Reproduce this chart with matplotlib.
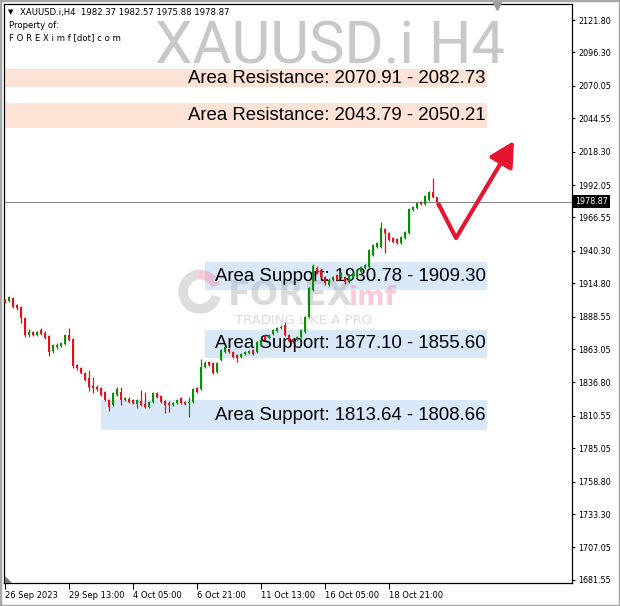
import numpy as np
import matplotlib
matplotlib.use('Agg')
import matplotlib.pyplot as plt
from matplotlib.patches import Rectangle, Polygon, Wedge
from matplotlib import transforms

# XAUUSD.i H4 candles
opens = [1901.7, 1900.9, 1903.2, 1897.7, 1896.1, 1887.5, 1874.1, 1876.5, 1874.1, 1878.1,
         1875.7, 1873.3, 1861.6, 1864.7, 1865.5, 1867.1, 1874.1, 1871.0, 1850.6, 1848.2,
         1844.3, 1840.3, 1834.0, 1833.3, 1832.5, 1829.3, 1823.0, 1819.1, 1827.0, 1829.3,
         1823.0, 1823.8, 1823.0, 1819.9, 1822.2, 1819.9, 1817.5, 1821.5, 1828.5, 1826.2,
         1822.2, 1820.7, 1819.1, 1820.7, 1824.6, 1821.5, 1820.7, 1821.5, 1832.5, 1831.7,
         1849.0, 1852.9, 1852.1, 1845.1, 1854.5, 1860.8, 1863.1, 1860.8, 1858.4, 1856.8,
         1859.2, 1860.0, 1862.4, 1860.8, 1866.3, 1874.1, 1871.8, 1875.0, 1877.3, 1879.6,
         1882.0, 1874.1, 1871.0, 1870.2, 1872.6, 1876.5, 1888.3, 1909.5, 1926.8, 1925.2,
         1919.7, 1913.4, 1917.4, 1921.3, 1919.7, 1919.7, 1915.8, 1919.7, 1919.7, 1923.6,
         1926.8, 1927.6, 1937.0, 1943.3, 1943.3, 1957.5, 1954.3, 1950.4, 1949.6, 1946.4,
         1950.4, 1954.3, 1972.4, 1974.0, 1978.7, 1977.1, 1980.3, 1986.5, 1982.37]
highs = [1902.5, 1904.8, 1904.0, 1898.5, 1896.9, 1888.3, 1878.9, 1877.3, 1877.3, 1879.6,
         1877.3, 1874.1, 1867.1, 1867.9, 1868.6, 1874.9, 1879.6, 1871.8, 1851.4, 1849.0,
         1845.1, 1846.6, 1841.1, 1834.8, 1833.3, 1830.1, 1823.8, 1829.3, 1833.3, 1833.3,
         1825.4, 1825.4, 1823.8, 1823.8, 1830.9, 1829.3, 1822.2, 1829.3, 1829.3, 1827.0,
         1823.0, 1822.2, 1821.5, 1823.8, 1825.4, 1822.2, 1825.4, 1832.5, 1833.3, 1855.3,
         1853.7, 1853.7, 1852.9, 1852.9, 1863.1, 1865.5, 1863.9, 1861.6, 1859.2, 1860.0,
         1861.6, 1862.4, 1863.1, 1869.4, 1871.0, 1874.9, 1874.9, 1878.9, 1880.4, 1882.0,
         1884.4, 1874.9, 1871.8, 1873.3, 1878.9, 1889.1, 1911.9, 1930.0, 1928.4, 1926.0,
         1920.5, 1918.9, 1920.5, 1922.1, 1923.6, 1920.5, 1922.1, 1923.6, 1926.0, 1928.4,
         1930.0, 1941.8, 1945.7, 1947.2, 1963.0, 1958.3, 1955.1, 1951.2, 1950.4, 1952.0,
         1955.9, 1974.0, 1975.5, 1978.7, 1979.5, 1984.2, 1987.3, 1997.6, 1982.57]
lows = [1899.3, 1900.1, 1895.4, 1893.8, 1883.6, 1872.6, 1872.6, 1873.3, 1873.3, 1874.1,
        1871.0, 1857.7, 1860.0, 1863.1, 1864.7, 1866.3, 1869.4, 1848.2, 1846.6, 1843.5,
        1838.0, 1830.1, 1828.5, 1830.1, 1826.2, 1822.2, 1814.4, 1818.3, 1826.2, 1819.1,
        1822.2, 1820.7, 1819.9, 1816.8, 1818.3, 1816.8, 1816.8, 1820.7, 1824.6, 1820.7,
        1812.8, 1813.6, 1818.3, 1819.9, 1819.9, 1819.1, 1809.7, 1820.7, 1828.5, 1830.9,
        1848.2, 1849.8, 1843.5, 1844.3, 1853.7, 1860.0, 1860.0, 1856.1, 1852.9, 1856.1,
        1858.4, 1859.2, 1858.4, 1860.0, 1865.5, 1869.4, 1871.0, 1874.1, 1876.5, 1878.9,
        1873.3, 1868.6, 1867.9, 1869.4, 1871.8, 1875.7, 1887.5, 1908.7, 1922.1, 1918.9,
        1913.4, 1912.7, 1916.6, 1916.6, 1918.9, 1914.2, 1915.0, 1918.9, 1918.9, 1922.9,
        1926.0, 1926.8, 1936.2, 1942.5, 1942.5, 1938.6, 1948.0, 1946.4, 1945.7, 1945.7,
        1949.6, 1953.5, 1971.6, 1973.2, 1976.4, 1976.4, 1979.5, 1981.8, 1975.88]
closes = [1900.1, 1904.0, 1896.1, 1895.4, 1887.5, 1874.1, 1876.5, 1874.1, 1876.5, 1875.0,
          1871.8, 1860.8, 1866.3, 1866.3, 1867.9, 1874.1, 1870.2, 1849.8, 1848.2, 1844.3,
          1838.8, 1833.3, 1832.5, 1831.7, 1827.0, 1823.0, 1817.5, 1828.5, 1831.7, 1823.0,
          1824.6, 1821.5, 1820.7, 1823.0, 1819.1, 1817.5, 1821.5, 1828.5, 1825.4, 1821.5,
          1819.1, 1819.1, 1820.7, 1823.0, 1820.7, 1819.9, 1821.5, 1831.7, 1829.3, 1849.0,
          1852.1, 1850.6, 1844.3, 1852.1, 1862.4, 1864.7, 1860.8, 1856.8, 1856.1, 1859.2,
          1860.8, 1861.6, 1859.2, 1868.6, 1870.2, 1870.2, 1874.1, 1878.1, 1879.6, 1880.4,
          1874.1, 1869.4, 1868.6, 1872.6, 1878.1, 1888.3, 1911.1, 1928.4, 1922.9, 1919.7,
          1915.0, 1917.4, 1919.7, 1917.4, 1922.9, 1915.8, 1921.3, 1922.9, 1925.2, 1927.6,
          1929.2, 1941.0, 1944.9, 1946.4, 1958.3, 1954.3, 1948.8, 1947.2, 1946.4, 1951.2,
          1955.1, 1973.2, 1974.8, 1977.9, 1977.1, 1983.4, 1986.5, 1982.6, 1978.87]

date_bars = [0, 16, 32, 48, 64, 80, 96]
date_labels = ['26 Sep 2023', '29 Sep 13:00', '4 Oct 05:00', '6 Oct 21:00',
               '11 Oct 13:00', '16 Oct 05:00', '18 Oct 21:00']
price_ticks = [2121.80, 2096.30, 2070.05, 2044.55, 2018.30, 1992.05, 1966.55, 1940.30,
               1914.80, 1888.55, 1863.05, 1836.80, 1810.55, 1785.05, 1758.80, 1733.30,
               1707.05, 1681.55]
last_price = 1978.87

# zones: (low, high), first bar, label
res_zones = [(2069.1, 2083.3), (2036.9, 2056.5)]
res_start = [-2, -2]
res_labels = ['Area Resistance: 2070.91 - 2082.73', 'Area Resistance: 2043.79 - 2050.21']
sup_zones = [(1909.5, 1931.5), (1856.1, 1878.1), (1799.4, 1823.0)]
sup_start = [50, 50, 24]
sup_labels = ['Area Support: 1930.78 - 1909.30', 'Area Support: 1877.10 - 1855.60',
              'Area Support: 1813.64 - 1808.66']
zone_end = 120.6

# projected move drawn on chart
arrow_bars = [108.25, 112.75, 127.25]
arrow_prices = [1977.9, 1950.4, 2026.7]

GREEN = '#0b8a0b'
RED = '#e3101c'
ARROW = '#e8142f'

fig = plt.figure(figsize=(6.2, 6.06), dpi=100)
ax = fig.add_axes([4/620, 1-583/606, 568/620, 579/606])
ax.set_xlim(-0.25, 141.75)
ax.set_ylim(1679.1, 2134.4)

# watermark
ax.text(0.882, 0.898, 'XAUUSD.i H4', transform=ax.transAxes, ha='right', va='baseline',
        fontsize=43, family='Roboto', color='#c8c8c8', zorder=0)

# zones
for (lo, hi), x0 in zip(res_zones, res_start):
    ax.add_patch(Rectangle((x0, lo), zone_end - x0, hi - lo, facecolor='#fde3d5',
                           edgecolor='none', zorder=1))
for (lo, hi), x0 in zip(sup_zones, sup_start):
    ax.add_patch(Rectangle((x0, lo), zone_end - x0, hi - lo, facecolor='#d8e8f8',
                           edgecolor='none', zorder=1))

# logo watermark
ax.add_patch(Wedge((0.345, 0.503), 0.038, 95, 345, width=0.017, transform=ax.transAxes,
                   facecolor='#b4b4bc', alpha=0.45, edgecolor='none', zorder=2))
ax.add_patch(Wedge((0.345, 0.503), 0.038, 20, 95, width=0.017, transform=ax.transAxes,
                   facecolor='#f08cb0', alpha=0.45, edgecolor='none', zorder=2))
ax.text(0.394, 0.480, 'FOREX', transform=ax.transAxes, fontsize=24, fontweight='bold',
        color='#b0b0b8', alpha=0.45, va='baseline', zorder=2)
ax.text(0.607, 0.480, 'imf', transform=ax.transAxes, fontsize=19, fontweight='bold',
        color='#f08cb0', alpha=0.45, va='baseline', zorder=2)
ax.text(0.407, 0.447, 'TRADING LIKE A PRO', transform=ax.transAxes, fontsize=9.5,
        color='#b8b8c0', alpha=0.5, va='baseline', zorder=2)

# current price line
ax.axhline(last_price, color='#8c8c8c', lw=0.8, zorder=2)

# zone labels (candles are drawn over them)
for (lo, hi), txt in zip(res_zones + sup_zones, res_labels + sup_labels):
    ax.text(zone_end - 0.4, (lo + hi) / 2, txt, ha='right', va='center', fontsize=13.4,
            family='Liberation Sans', color='black', zorder=2.5)

# candles
o = np.array(opens)
h = np.array(highs)
l = np.array(lows)
c = np.array(closes)
idx = np.arange(len(o))
cols = np.where(c >= o, GREEN, RED)
ax.vlines(idx, l, h, colors=cols, lw=0.9, zorder=3)
ax.bar(idx, np.maximum(np.abs(c - o), 0.9), bottom=np.minimum(o, c), width=0.72,
       color=cols, linewidth=0, zorder=4)

# arrow
ax.plot(arrow_bars[:2], arrow_prices[:2], color=ARROW, lw=3.0, solid_capstyle='butt', zorder=7)
ax.annotate('', xy=(arrow_bars[2], arrow_prices[2]), xytext=(arrow_bars[1], arrow_prices[1]),
            arrowprops=dict(arrowstyle='-|>,head_length=0.75,head_width=0.4', lw=3.0,
                            color=ARROW, shrinkA=0, shrinkB=0, mutation_scale=20), zorder=7)

# axes styling
for sp in ax.spines.values():
    sp.set_color('black')
    sp.set_linewidth(0.9)
ax.yaxis.tick_right()
ax.set_yticks(price_ticks)
ax.set_yticklabels(['%.2f' % v for v in price_ticks])
ax.tick_params(axis='y', length=2, width=0.8, pad=2.5, labelsize=5.8, colors='black')
ax.set_xticks(date_bars)
ax.set_xticklabels(date_labels)
ax.tick_params(axis='x', length=4, width=0.8, pad=1.5, labelsize=6.0, colors='black')
for lbl in ax.get_xticklabels():
    lbl.set_ha('left')

# last price tag
tr = transforms.blended_transform_factory(ax.transAxes, ax.transData)
ax.text(1.006, last_price, '1978.87', transform=tr, ha='left', va='center', fontsize=5.8,
        color='white', zorder=8, clip_on=False,
        bbox=dict(boxstyle='square,pad=0.25', facecolor='black', edgecolor='none'))

# small chart-shift markers
ax.plot([0.868], [0.996], marker='v', markersize=6, color='#9aa0a6', transform=ax.transAxes,
        clip_on=False, zorder=8)
ax.add_patch(Polygon([[0.002, 0.0], [0.002, 0.012], [0.014, 0.0]], closed=True,
                     transform=ax.transAxes, facecolor='#707880', edgecolor='none', zorder=8))

# header
fig.text(8/620, 1-12/606, '\u25bc', fontsize=5, va='center', ha='left')
fig.text(20/620, 1-12/606, 'XAUUSD.i,H4  1982.37 1982.57 1975.88 1978.87', fontsize=6.1,
         va='center', ha='left')
fig.text(9/620, 1-26/606, 'Property of:', fontsize=6.1, va='center', ha='left')
fig.text(9/620, 1-38/606, 'F O R E X i m f [dot] c o m', fontsize=6.1, va='center', ha='left')

# window border
fig.patches.append(Rectangle((0, 0), 1, 1, transform=fig.transFigure, fill=False,
                             edgecolor='#a8a8a8', lw=2.5))

fig.savefig('out.png', dpi=100)
